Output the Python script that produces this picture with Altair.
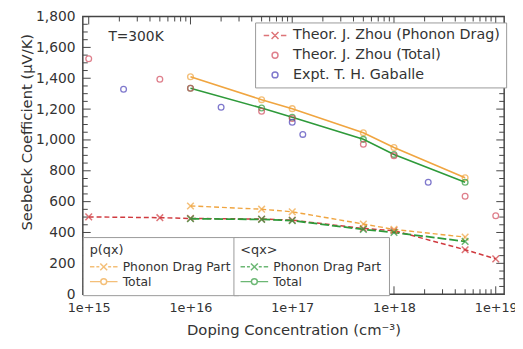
import altair as alt
import pandas as pd

# ---------------- data ----------------
zhou_x = [1e15, 5e15, 1e16, 5e16, 1e17, 5e17, 1e18, 5e18, 1e19]
zhou_drag_y = [501, 496, 491, 487, 480, 426, 412, 288, 229]
zhou_total_y = [1527, 1393, 1335, 1186, 1139, 972, 897, 635, 508]

gaballe_x = [2.2e15, 2.0e16, 1.0e17, 1.27e17, 2.17e18]
gaballe_y = [1329, 1212, 1115, 1036, 726]

calc_x = [1e16, 5e16, 1e17, 5e17, 1e18, 5e18]
pqx_drag_y = [572, 551, 534, 455, 420, 370]
pqx_total_y = [1410, 1261, 1203, 1047, 951, 755]
qx_drag_y = [489, 485, 477, 420, 400, 342]
qx_total_y = [1335, 1207, 1147, 1004, 906, 726]

x_major = [1e15, 1e16, 1e17, 1e18, 1e19]
x_minor = [m * d for d in [1e15, 1e16, 1e17, 1e18] for m in range(2, 10)]
y_major = list(range(0, 1801, 200))
y_minor = [v for v in range(0, 1801, 50) if v % 200 != 0]

top_labels = ["Theor. J. Zhou (Phonon Drag)", "Theor. J. Zhou (Total)", "Expt. T. H. Gaballe"]
calc_labels = ["Phonon Drag Part", "Total"]

X_TITLE = "Doping Concentration (cm⁻³)"
Y_TITLE = "Seebeck Coefficient (μV/K)"

# ---------------- style ----------------
W, H = 428, 282
FONT = "DejaVu Sans"
TXT = "#333333"
TICK = "#444444"
RED = "#d03a3f"
RED_C = "#d24a5c"
BLUE = "#4a40b8"
ORANGE = "#f0a540"
GREEN = "#2e9a3a"

XPATH = "M-1,-1L1,1M-1,1L1,-1"
CIRC = "M0.6,0A0.6,0.6 0 1,1 -0.6,0A0.6,0.6 0 1,1 0.6,0Z"
LX_TOP = "M-2.3,0H-1.2M-0.7,-0.7L0.7,0.7M-0.7,0.7L0.7,-0.7M1.2,0H2.3"
LX_BOT = "M-2.8,0H-1.9M-1.5,0H-0.9M-0.7,-0.7L0.7,0.7M-0.7,0.7L0.7,-0.7M0.9,0H1.5M1.9,0H2.8"
LC_BOT = "M-2.8,0H-0.6M0.6,0H2.8M0.6,0A0.6,0.6 0 1,1 -0.6,0A0.6,0.6 0 1,1 0.6,0Z"

xs = alt.Scale(type="log", domain=[8.75e14, 1.21e19])
ys = alt.Scale(domain=[0, 1800], nice=False)

x_axis = alt.Axis(
    values=x_major, labelExpr="'1e+' + round(log(datum.value) / LN10)",
    ticks=False, tickSize=0, domain=False, grid=False, labelOverlap=False, labelFlush=False,
    labelFont=FONT, labelFontSize=13, labelColor=TXT, labelPadding=8,
    titleFont=FONT, titleFontSize=15, titleFontWeight="normal", titleColor=TXT, titlePadding=8,
)
y_axis = alt.Axis(
    values=y_major, format=",d", ticks=False, tickSize=0, domain=False, grid=False,
    labelFont=FONT, labelFontSize=14, labelColor=TXT, labelPadding=8,
    titleFont=FONT, titleFontSize=15, titleFontWeight="normal", titleColor=TXT,
    titleAngle=270, titleX=-57, titleY=117, titleAlign="center", titleBaseline="middle",
)


# every layer uses the identical axis definition so the shared axes merge cleanly
def XE(field):
    return alt.X(field, scale=xs, axis=x_axis, title=X_TITLE)


def YE(field):
    return alt.Y(field, scale=ys, axis=y_axis, title=Y_TITLE)


def frame(xv, yv):
    return pd.DataFrame({"doping": xv, "seebeck": yv})


layers = []


# inward ticks on all four sides
def xticks(vals, y0, y1):
    return alt.Chart(pd.DataFrame({"doping": vals})).mark_rule(color=TICK, strokeWidth=1).encode(
        x=XE("doping:Q"), y=alt.value(y0), y2=alt.value(y1))


def yticks(vals, x0, x1):
    return alt.Chart(pd.DataFrame({"seebeck": vals})).mark_rule(color=TICK, strokeWidth=1).encode(
        y=YE("seebeck:Q"), x=alt.value(x0), x2=alt.value(x1))


layers += [
    xticks(x_major, H, H - 8), xticks(x_minor, H, H - 5),
    xticks(x_major, 0, 8), xticks(x_minor, 0, 5),
    yticks(y_major, 0, 8), yticks(y_minor, 0, 5),
    yticks(y_major, W, W - 8), yticks(y_minor, W, W - 5),
]


def line(xv, yv, color, dash, sw):
    kw = dict(color=color, strokeWidth=sw)
    if dash:
        kw["strokeDash"] = dash
    return alt.Chart(frame(xv, yv)).mark_line(**kw).encode(x=XE("doping:Q"), y=YE("seebeck:Q"))


layers += [
    line(zhou_x, zhou_drag_y, RED, [5, 3], 1.5),
    line(calc_x, pqx_drag_y, ORANGE, [5, 3], 1.4),
    line(calc_x, qx_drag_y, GREEN, [9, 3], 1.8),
    line(calc_x, pqx_total_y, ORANGE, None, 1.6),
    line(calc_x, qx_total_y, GREEN, None, 1.6),
]


def pts(xv, yv, color, shape, size, sw=1.5):
    return alt.Chart(frame(xv, yv)).mark_point(
        shape=shape, size=size, color=color, filled=False, strokeWidth=sw
    ).encode(x=XE("doping:Q"), y=YE("seebeck:Q"))


layers += [
    pts(zhou_x, zhou_drag_y, RED, XPATH, 45),
    pts(calc_x, pqx_drag_y, ORANGE, XPATH, 45),
    pts(calc_x, qx_drag_y, GREEN, XPATH, 45),
    pts(calc_x, pqx_total_y, ORANGE, "circle", 34, 1.4),
    pts(calc_x, qx_total_y, GREEN, "circle", 34, 1.4),
    pts(zhou_x, zhou_total_y, RED_C, "circle", 34, 1.3),
    pts(gaballe_x, gaballe_y, BLUE, "circle", 34, 1.3),
]


# legends (invisible carrier layers)
def legend(title, lx, ly, fs, rowpad, pad, soff, loff):
    kw = dict(orient="none", legendX=lx, legendY=ly, symbolSize=100, symbolStrokeWidth=1.5,
              symbolOffset=soff, labelOffset=loff, labelFont=FONT, labelFontSize=fs, labelColor=TXT,
              padding=pad, rowPadding=rowpad, strokeColor="#999999", fillColor="white",
              direction="vertical", labelLimit=400)
    if title:
        kw.update(title=title, titleFont=FONT, titleFontSize=13, titleFontWeight="normal",
                  titleColor=TXT, titlePadding=4)
    else:
        kw["title"] = None
    return alt.Legend(**kw)


def carrier(labels, xv, yv, colors, shapes, leg):
    df = pd.DataFrame({"doping": xv, "seebeck": yv, "series": labels})
    return alt.Chart(df).mark_point(size=0, filled=False, strokeWidth=1.5).encode(
        x=XE("doping:Q"),
        y=YE("seebeck:Q"),
        color=alt.Color("series:N", scale=alt.Scale(domain=labels, range=colors), legend=leg),
        shape=alt.Shape("series:N", scale=alt.Scale(domain=labels, range=shapes), legend=leg),
    )


leg_top = legend(None, 175, 6, 14.5, 5, 6, 7, 11)
leg_p = legend("p(qx)", 0, 224, 12.5, 2, 7, 8, 13)
leg_q = legend("<qx>", 153, 224, 12.5, 2, 7, 8, 13)

layers += [
    carrier(top_labels, [zhou_x[0], zhou_x[0], gaballe_x[0]],
            [zhou_drag_y[0], zhou_total_y[0], gaballe_y[0]],
            [RED, RED_C, BLUE], [LX_TOP, CIRC, CIRC], leg_top),
    carrier(calc_labels, [calc_x[0], calc_x[0]], [pqx_drag_y[0], pqx_total_y[0]],
            [ORANGE, ORANGE], [LX_BOT, LC_BOT], leg_p),
    carrier(calc_labels, [calc_x[0], calc_x[0]], [qx_drag_y[0], qx_total_y[0]],
            [GREEN, GREEN], [LX_BOT, LC_BOT], leg_q),
]

# annotation
layers.append(
    alt.Chart(pd.DataFrame({"t": ["T=300K"]})).mark_text(
        align="left", baseline="middle", font=FONT, fontSize=14, color=TXT).encode(
        x=alt.value(26), y=alt.value(21), text="t:N")
)

chart = (
    alt.layer(*layers)
    .resolve_scale(color="independent", shape="independent")
    .properties(width=W, height=H, background="white",
                autosize=alt.AutoSizeParams(type="none"),
                padding={"left": 76, "top": 6, "right": 11, "bottom": 53})
    .configure_view(stroke="#444444", strokeWidth=1.5)
)

chart.save("out.html", embed_options={"renderer": "svg", "actions": False})
